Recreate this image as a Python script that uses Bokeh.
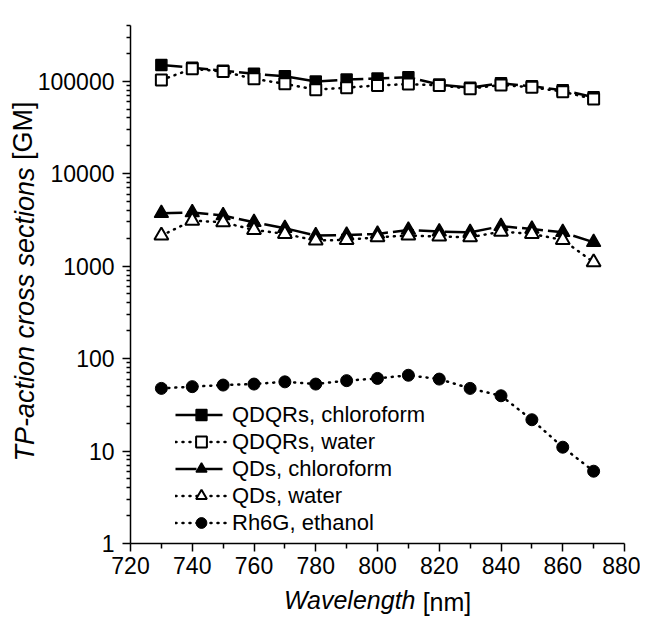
from bokeh.plotting import figure
from bokeh.models import (Range1d, FixedTicker, CustomJSTickFormatter, Legend,
                          LegendItem, LinearAxis)
from bokeh.embed import file_html
from bokeh.resources import INLINE

# ---------------- data ----------------
wavelength = [730, 740, 750, 760, 770, 780, 790, 800, 810, 820, 830, 840, 850, 860, 870]
qdqr_chloroform = [150000, 140000, 130000, 120000, 113000, 99000, 104000, 107000,
                   110000, 92000, 85000, 95000, 88000, 80000, 67000]
qdqr_water = [103000, 136000, 127000, 106000, 93500, 81000, 85000, 90000,
              93000, 90000, 83000, 91000, 86000, 77000, 64000]
qd_chloroform = [3730, 3800, 3520, 2980, 2570, 2140, 2170, 2230, 2460, 2360,
                 2320, 2700, 2520, 2320, 1810]
qd_water = [2140, 3100, 2980, 2460, 2230, 1890, 1920, 2050, 2140, 2090,
            2050, 2360, 2230, 1920, 1100]
rh6g_ethanol = [47.6, 49.7, 51.7, 53, 56, 53, 57.7, 61, 66, 60, 47.6, 39.6,
                21.8, 11.0, 6.05]

x_major = [720, 740, 760, 780, 800, 820, 840, 860, 880]
x_minor = [730, 750, 770, 790, 810, 830, 850, 870]
y_major = [1, 10, 100, 1000, 10000, 100000]

labels = ["QDQRs, chloroform", "QDQRs, water", "QDs, chloroform",
          "QDs, water", "Rh6G, ethanol"]

FONT = "Liberation Sans"
NB = "\u00a0"

# ---------------- figure ----------------
p = figure(frame_width=494, frame_height=518,
           min_border_left=130, min_border_right=16,
           min_border_top=25, min_border_bottom=79,
           y_axis_type="log",
           x_range=Range1d(720, 880), y_range=Range1d(1, 4e5),
           output_backend="svg", toolbar_location=None)
p.outline_line_color = None
p.xgrid.visible = False
p.ygrid.visible = False
p.background_fill_color = "white"
p.border_fill_color = "white"

y_minor = [k * 10 ** d for d in range(0, 6) for k in range(2, 10) if k * 10 ** d <= 4e5]

p.xaxis.ticker = FixedTicker(ticks=x_major, minor_ticks=x_minor)
p.yaxis.ticker = FixedTicker(ticks=y_major, minor_ticks=y_minor)
p.yaxis.formatter = CustomJSTickFormatter(code="return tick.toFixed(0);")

for ax in (p.xaxis, p.yaxis):
    ax.axis_line_width = 1.5
    ax.axis_line_color = "black"
    ax.major_tick_line_width = 1.5
    ax.minor_tick_line_width = 1.5
    ax.major_tick_line_color = "black"
    ax.minor_tick_line_color = "black"
    ax.major_tick_in = 0
    ax.minor_tick_in = 0
    ax.major_tick_out = 8
    ax.major_label_text_font = FONT
    ax.major_label_text_font_size = "23px"
    ax.major_label_text_color = "black"
    ax.axis_label_text_font = FONT
    ax.axis_label_text_color = "black"
    ax.axis_label_text_font_style = "italic"
p.xaxis.axis_label_text_font_size = "25px"
p.yaxis.axis_label_text_font_size = "27px"
p.xaxis.minor_tick_out = 5
p.yaxis.minor_tick_out = 4
p.xaxis.major_label_standoff = 5
p.yaxis.major_label_standoff = 8

# italic parts of the axis titles on the main axes (padded with no-break spaces)
p.xaxis.axis_label = "Wavelength" + NB * 8
p.xaxis.axis_label_standoff = 9
p.yaxis.axis_label = NB + "TP-action cross sections" + NB * 9
p.yaxis.axis_label_standoff = -5

# upright parts on extra, tick-less axes, pulled back onto the same line
def title_axis(text, standoff, size):
    ax = LinearAxis(ticker=FixedTicker(ticks=[]), axis_line_color=None,
                    major_tick_line_color=None, minor_tick_line_color=None,
                    major_label_text_font_size="0px",
                    axis_label=text, axis_label_standoff=standoff,
                    axis_label_text_font=FONT, axis_label_text_font_size=size,
                    axis_label_text_color="black",
                    axis_label_text_font_style="normal")
    return ax

p.add_layout(title_axis(NB * 20 + "[nm]", -29, "25px"), "below")
p.add_layout(title_axis(NB * 41 + "[GM]", -31, "27px"), "left")

# ---------------- series ----------------
dash_long = "21 5"
dots = "1 6"

r1l = p.line(wavelength, qdqr_chloroform, line_color="black", line_width=2.5,
             line_dash=dash_long)
r1m = p.scatter(wavelength, qdqr_chloroform, marker="square", size=11,
                fill_color="black", line_color="black", line_width=1.5)

r2l = p.line(wavelength, qdqr_water, line_color="black", line_width=2.5,
             line_dash=dots, line_cap="round")
r2m = p.scatter(wavelength, qdqr_water, marker="square", size=11,
                fill_color="white", line_color="black", line_width=2)

r3l = p.line(wavelength, qd_chloroform, line_color="black", line_width=2.5,
             line_dash=dash_long)
r3m = p.scatter(wavelength, qd_chloroform, marker="triangle", size=14,
                fill_color="black", line_color="black", line_width=1.5)

r4l = p.line(wavelength, qd_water, line_color="black", line_width=2.5,
             line_dash=dots, line_cap="round")
r4m = p.scatter(wavelength, qd_water, marker="triangle", size=14,
                fill_color="white", line_color="black", line_width=2)

r5l = p.line(wavelength, rh6g_ethanol, line_color="black", line_width=2.5,
             line_dash=dots, line_cap="round")
r5m = p.scatter(wavelength, rh6g_ethanol, marker="circle", size=12,
                fill_color="black", line_color="black", line_width=1)

renderers = [(r1l, r1m), (r2l, r2m), (r3l, r3m), (r4l, r4m), (r5l, r5m)]
items = [LegendItem(label=lab, renderers=list(rr)) for lab, rr in zip(labels, renderers)]

legend = Legend(items=items, location=(45, 7), glyph_width=52, glyph_height=27,
                label_height=27, spacing=0, padding=0, margin=0,
                label_standoff=5, border_line_alpha=0, background_fill_alpha=0,
                label_text_font=FONT, label_text_font_size="22px",
                label_text_color="black")
p.add_layout(legend)

open("out.html", "w").write(file_html(p, INLINE))
